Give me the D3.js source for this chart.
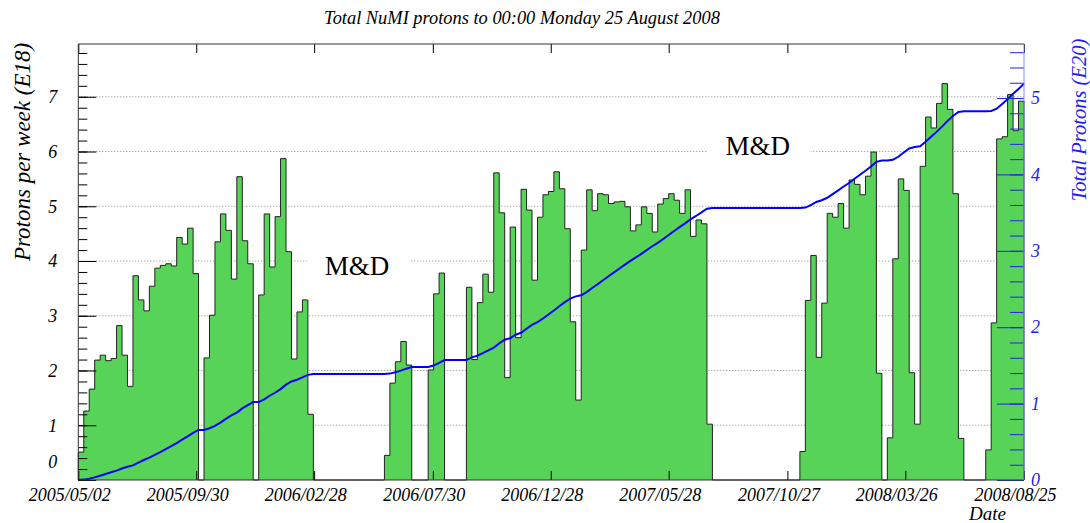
<!DOCTYPE html>
<html>
<head>
<meta charset="utf-8">
<script src="https://cdn.jsdelivr.net/npm/d3@7"></script>
<style>
  body { margin: 0; background: #fff; }
  svg text { font-family: "Liberation Serif", "DejaVu Serif", serif; font-style: italic; }
</style>
</head>
<body>
<div id="chart"></div>
<script>
// weekly bins, first bin starts here
const firstWeek = "2005-05-02";

// protons per week (E18), one value per week
const protonsPerWeek = [
  0.51, 1.26, 1.66, 2.19, 2.28, 2.18, 2.22, 2.82, 2.28, 1.71,
  3.73, 3.29, 3.09, 3.54, 3.87, 3.92, 3.95, 3.91, 4.43, 4.31,
  4.60, 3.77, 0,    2.23, 3.01, 4.35, 4.86, 4.56, 3.67, 5.54,
  4.37, 3.95, 0,    3.38, 4.86, 3.89, 4.81, 5.87, 4.17, 2.21,
  3.07, 3.29, 1.20, 0,    0,    0,    0,    0,    0,    0,
  0,    0,    0,    0,    0,    0,    0.45, 1.77, 2.16, 2.53,
  2.10, 0,    0,    0,    2.01, 3.40, 3.78, 0,    0,    0,
  0,    3.52, 2.20, 3.24, 3.76, 3.43, 5.61, 4.88, 1.87, 4.62,
  2.60, 5.31, 4.93, 3.65, 4.80, 5.21, 5.27, 5.63, 5.32, 4.59,
  2.89, 1.46, 4.20, 5.30, 4.92, 5.23, 5.21, 5.05, 5.08, 5.09,
  4.99, 4.55, 4.66, 4.99, 4.87, 4.53, 5.04, 5.14, 5.23, 5.11,
  4.87, 5.30, 4.45, 4.75, 4.68, 1.02, 0,    0,    0,    0,
  0,    0,    0,    0,    0,    0,    0,    0,    0,    0,
  0,    0,    0.52, 3.28, 4.10, 2.24, 3.23, 4.87, 4.80, 5.05,
  4.60, 5.48, 5.40, 5.21, 5.55, 5.99, 1.95, 0,    0.77, 4.04,
  5.50, 5.29, 1.96, 1.02, 5.73, 6.63, 6.43, 6.88, 7.24, 6.77,
  5.23, 0.76, 0,    0,    0,    0,    0.55, 2.87, 6.23, 6.27,
  7.04, 6.38, 6.92
];

// date axis labels
const tickDates = ["2005-05-02", "2005-09-30", "2006-02-28", "2006-07-30", "2006-12-28",
                   "2007-05-28", "2007-10-27", "2008-03-26", "2008-08-25"];
const leftTicks = [0, 1, 2, 3, 4, 5, 6, 7];
const rightTicks = [0, 1, 2, 3, 4, 5];

// shutdown notes
const noteText = ["M&D", "M&D"];
const noteDate = ["2006-04-24", "2007-09-19"];
const noteLevel = [3.74, 5.94];

const width = 1090, height = 523;
const frame = { left: 78.3, right: 1024, top: 44, bottom: 480 };
const green = "#57d357";
const blue = "#2222ee";

const parse = d3.utcParse("%Y-%m-%d");
const start = parse(firstWeek);
const edges = d3.range(protonsPerWeek.length + 1).map(i => d3.utcDay.offset(start, 7 * i));

// running total in E20
let sum = 0;
const total = protonsPerWeek.map(v => (sum += v) / 100);

const x = d3.scaleUtc()
  .domain([edges[0], edges[edges.length - 1]])
  .range([frame.left, frame.right]);
const y = d3.scaleLinear()
  .domain([0, 1.1 * d3.max(protonsPerWeek)])
  .range([frame.bottom, frame.top]);
const y2 = d3.scaleLinear()
  .domain([0, 1.1 * total[total.length - 1]])
  .range([frame.bottom, frame.top]);

const svg = d3.select("#chart").append("svg")
  .attr("width", width)
  .attr("height", height);

// dotted grid
svg.append("g")
  .selectAll("line")
  .data(leftTicks.slice(1))
  .join("line")
    .attr("x1", frame.left).attr("x2", frame.right)
    .attr("y1", d => y(d)).attr("y2", d => y(d))
    .attr("stroke", "#888")
    .attr("stroke-dasharray", "1,2");

// histogram: step fill then step outline
const steps = [[edges[0], 0]]
  .concat(protonsPerWeek.map((v, i) => [edges[i], v]))
  .concat([[edges[edges.length - 1], protonsPerWeek[protonsPerWeek.length - 1]], [edges[edges.length - 1], 0]]);

svg.append("path")
  .datum(steps)
  .attr("fill", green)
  .attr("d", d3.area().curve(d3.curveStepAfter)
    .x(d => x(d[0])).y0(y(0)).y1(d => y(d[1])));

svg.append("path")
  .datum(steps)
  .attr("fill", "none")
  .attr("stroke", "#222")
  .attr("stroke-width", 1)
  .attr("d", d3.line().curve(d3.curveStepAfter)
    .x(d => x(d[0])).y(d => y(d[1])));

// notes on white boxes
const notes = svg.append("g")
  .selectAll("g")
  .data(noteText)
  .join("g")
    .attr("transform", (d, i) => `translate(${x(parse(noteDate[i]))},${y(noteLevel[i])})`);
notes.append("rect")
  .attr("x", -50).attr("y", -26).attr("width", 103).attr("height", 50)
  .attr("fill", "#fff");
notes.append("text")
  .attr("text-anchor", "middle")
  .style("font-style", "normal")
  .attr("font-size", 27)
  .text(d => d);

// running total line
const linePts = [[edges[0], 0]].concat(total.map((t, i) => [edges[i + 1], t]));
svg.append("path")
  .datum(linePts)
  .attr("fill", "none")
  .attr("stroke", "#0000ff")
  .attr("stroke-width", 2)
  .attr("d", d3.line().x(d => x(d[0])).y(d => y2(d[1])));

// axes
const dates = tickDates.map(parse);

const bottom = svg.append("g")
  .attr("transform", `translate(0,${frame.bottom})`)
  .call(d3.axisBottom(x).tickValues(dates).tickSizeInner(-9).tickSizeOuter(0)
    .tickPadding(8).tickFormat(d3.utcFormat("%Y/%m/%d")));
bottom.selectAll("text").attr("dx", -9);

svg.append("g")
  .attr("transform", `translate(0,${frame.top})`)
  .call(d3.axisTop(x).tickValues(dates).tickSizeInner(-9).tickSizeOuter(0).tickFormat(""));

const left = svg.append("g")
  .attr("transform", `translate(${frame.left},0)`)
  .call(d3.axisLeft(y).tickValues(leftTicks).tickSizeInner(-18).tickSizeOuter(0)
    .tickPadding(21).tickFormat(d3.format("d")));
left.selectAll(".tick").filter(d => d === 0).select("text").attr("dy", "-0.7em");

svg.append("g")
  .attr("transform", `translate(${frame.left},0)`)
  .call(d3.axisLeft(y).tickValues(d3.range(0, 8, 0.2)).tickSizeInner(-9).tickSizeOuter(0).tickFormat(""));

const right = svg.append("g")
  .attr("transform", `translate(${frame.right},0)`)
  .call(d3.axisRight(y2).tickValues(rightTicks).tickSizeInner(-27).tickSizeOuter(0)
    .tickPadding(7).tickFormat(d3.format("d")));
right.selectAll("line").attr("stroke", blue);
right.selectAll("text").attr("fill", blue);

const rightMinor = svg.append("g")
  .attr("transform", `translate(${frame.right},0)`)
  .call(d3.axisRight(y2).tickValues(d3.range(0, 5.7, 0.2)).tickSizeInner(-14).tickSizeOuter(0).tickFormat(""));
rightMinor.selectAll("line").attr("stroke", blue);

svg.selectAll(".domain").remove();
svg.selectAll(".tick text").attr("font-size", 18).attr("font-family", null);
svg.selectAll(".tick line").attr("stroke-width", 1);

// frame
svg.append("path")
  .attr("fill", "none")
  .attr("stroke", "#333")
  .attr("d", `M${frame.right},${frame.top}H${frame.left}V${frame.bottom}H${frame.right}`);
svg.append("line")
  .attr("x1", frame.right).attr("x2", frame.right)
  .attr("y1", frame.top).attr("y2", frame.bottom)
  .attr("stroke", "#8888ff");

// titles
svg.append("text")
  .attr("x", 522).attr("y", 24)
  .attr("text-anchor", "middle")
  .attr("font-size", 18.4)
  .text("Total NuMI protons to 00:00 Monday 25 August 2008");

svg.append("text")
  .attr("transform", "translate(30,152) rotate(-90)")
  .attr("text-anchor", "middle")
  .attr("font-size", 23)
  .text("Protons per week (E18)");

svg.append("text")
  .attr("transform", "translate(1086,120) rotate(-90)")
  .attr("text-anchor", "middle")
  .attr("font-size", 20.5)
  .attr("fill", blue)
  .text("Total Protons (E20)");

svg.append("text")
  .attr("x", 1006).attr("y", 520)
  .attr("text-anchor", "end")
  .attr("font-size", 19)
  .text("Date");
</script>
</body>
</html>
